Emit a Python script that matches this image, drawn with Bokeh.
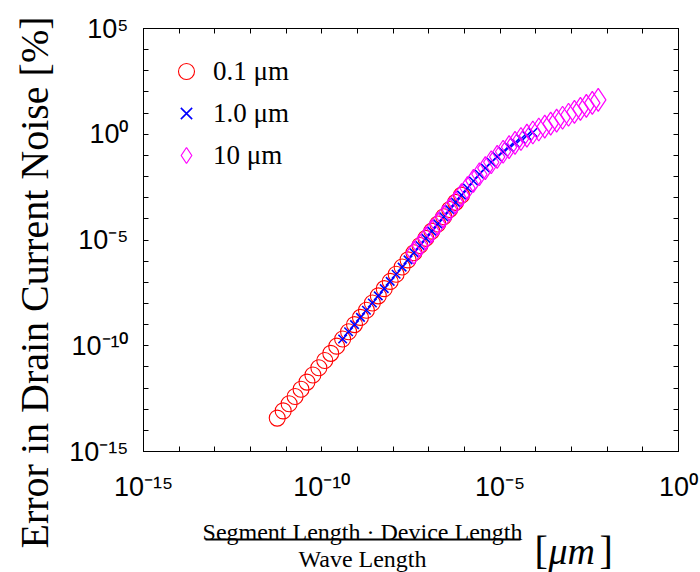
import math
from bokeh.plotting import figure
from bokeh.layouts import column
from bokeh.models import (Range1d, LogAxis, FixedTicker, CustomJSTickFormatter,
                          Legend, LegendItem, Title)
from bokeh.core.properties import value
from bokeh.embed import file_html
from bokeh.resources import INLINE

# ---------------- data ----------------
red_x = [5.62e-12, 8.25e-12, 1.21e-11, 1.78e-11, 2.61e-11, 3.83e-11, 5.62e-11, 8.25e-11,
         1.21e-10, 1.78e-10, 2.61e-10, 3.83e-10, 5.62e-10, 8.25e-10, 1.21e-9, 1.78e-9,
         2.61e-9, 3.83e-9, 5.62e-9, 8.25e-9, 1.21e-8, 1.78e-8, 2.61e-8, 3.83e-8,
         5.62e-8, 8.25e-8, 1.21e-7, 1.78e-7, 2.61e-7, 3.83e-7, 5.62e-7, 8.25e-7]
red_y = [3.80e-14, 8.32e-14, 1.82e-13, 3.98e-13, 8.71e-13, 1.91e-12, 4.17e-12, 9.12e-12,
         2.00e-11, 4.37e-11, 9.55e-11, 2.09e-10, 4.57e-10, 1.00e-9, 2.19e-9, 4.79e-9,
         1.05e-8, 2.29e-8, 5.01e-8, 1.10e-7, 2.40e-7, 5.25e-7, 1.15e-6, 2.51e-6,
         5.50e-6, 1.20e-5, 2.63e-5, 5.75e-5, 1.26e-4, 2.75e-4, 6.03e-4, 1.32e-3]

blue_x = [3.83e-10, 5.62e-10, 8.25e-10, 1.21e-9, 1.78e-9, 2.61e-9, 3.83e-9, 5.62e-9,
          8.25e-9, 1.21e-8, 1.78e-8, 2.61e-8, 3.83e-8, 5.62e-8, 8.25e-8, 1.21e-7,
          1.78e-7, 2.61e-7, 3.83e-7, 5.62e-7, 8.25e-7, 1.21e-6, 1.78e-6, 2.61e-6,
          3.83e-6, 5.62e-6, 8.25e-6, 1.21e-5, 1.78e-5, 2.61e-5, 3.83e-5, 5.62e-5, 8.25e-5]
blue_y = [2.09e-10, 4.57e-10, 1.00e-9, 2.19e-9, 4.79e-9, 1.05e-8, 2.29e-8, 5.01e-8,
          1.10e-7, 2.40e-7, 5.25e-7, 1.15e-6, 2.51e-6, 5.50e-6, 1.20e-5, 2.63e-5,
          5.75e-5, 1.26e-4, 2.75e-4, 6.03e-4, 1.32e-3, 2.88e-3, 6.19e-3, 1.28e-2,
          2.52e-2, 4.75e-2, 8.59e-2, 0.149, 0.247, 0.391, 0.594, 0.865, 1.21]

mag_x = [3.83e-8, 5.62e-8, 8.25e-8, 1.21e-7, 1.78e-7, 2.61e-7, 3.83e-7, 5.62e-7,
         8.25e-7, 1.21e-6, 1.78e-6, 2.61e-6, 3.83e-6, 5.62e-6, 8.25e-6, 1.21e-5,
         1.78e-5, 2.61e-5, 3.83e-5, 5.62e-5, 8.25e-5, 1.21e-4, 1.78e-4, 2.61e-4,
         3.83e-4, 5.62e-4, 8.25e-4, 1.21e-3, 1.78e-3, 2.61e-3, 3.83e-3, 5.62e-3]
mag_y = [2.51e-6, 5.50e-6, 1.20e-5, 2.63e-5, 5.75e-5, 1.26e-4, 2.75e-4, 6.03e-4,
         1.32e-3, 2.88e-3, 6.19e-3, 1.28e-2, 2.52e-2, 4.75e-2, 8.59e-2, 0.149,
         0.247, 0.391, 0.594, 0.865, 1.21, 1.67, 2.30, 3.18,
         4.39, 6.05, 8.36, 11.5, 15.9, 22.0, 30.3, 41.9]

series_labels = ["0.1 μm", "1.0 μm", "10 μm"]
y_title = "Error in Drain Current Noise [%]"
x_title_num = "Segment Length · Device Length"
x_title_den = "Wave Length"
x_title_unit = ["[", "μm", "]"]
x_decades = list(range(-15, 1))
y_decades = list(range(-15, 6))
label_every = 5

# ---------------- layout ----------------
W, H = 700, 572
STRIP_TOP = 520                # top of the visible x-title strip (page pixels)
SHIFT = 9                      # the strip's frame sits this far below its canvas top
XT_H = H - STRIP_TOP + SHIFT
FL, FR, FT = 143, 22, 28       # frame margins
FB = H - FT - 423
SERIF = "Liberation Serif"
SANS = "Liberation Sans"

p = figure(width=W, height=H, x_axis_type="log", y_axis_type="log",
           x_range=Range1d(10.0 ** x_decades[0], 10.0 ** x_decades[-1]),
           y_range=Range1d(10.0 ** y_decades[0], 10.0 ** y_decades[-1]),
           output_backend="svg", toolbar_location=None, title=None,
           min_border_left=FL, min_border_right=FR,
           min_border_top=FT, min_border_bottom=FB)
p.grid.visible = False
p.outline_line_color = "black"
p.background_fill_color = "white"
p.border_fill_color = "white"

sup_code = """
const e = Math.round(Math.log10(tick));
if (e %% %d !== 0) return '';
const sup = {'-':'\u207b','0':'\u2070','1':'\u00b9','2':'\u00b2','3':'\u00b3','4':'\u2074',
             '5':'\u2075','6':'\u2076','7':'\u2077','8':'\u2078','9':'\u2079'};
return '10' + String(e).split('').map(c => sup[c]).join('');
""" % label_every


def style_axis(ax, ticks, labelled, standoff=0):
    ax.ticker = FixedTicker(ticks=ticks)
    ax.major_tick_in = 5
    ax.major_tick_out = 0
    ax.minor_tick_line_color = None
    ax.axis_line_color = "black"
    ax.major_tick_line_color = "black"
    if labelled:
        ax.formatter = CustomJSTickFormatter(code=sup_code)
        ax.major_label_text_font = SANS
        ax.major_label_text_font_size = "27px"
        ax.major_label_text_color = "black"
        ax.major_label_standoff = standoff
    else:
        ax.formatter = CustomJSTickFormatter(code="return ''")
        ax.major_label_standoff = 0
        ax.major_label_text_font_size = "1px"


xt = [10.0 ** e for e in x_decades]
yt = [10.0 ** e for e in y_decades]
style_axis(p.xaxis[0], xt, True, 20)
style_axis(p.yaxis[0], yt, True, 15)
top_ax = LogAxis()
style_axis(top_ax, xt, False)
p.add_layout(top_ax, "above")
right_ax = LogAxis()
style_axis(right_ax, yt, False)
p.add_layout(right_ax, "right")

# y title in the left panel, starting below the frame like the reference
p.add_layout(Title(text=y_title, align="left", offset=-97, standoff=19,
                   text_font=SERIF, text_font_size="40px", text_font_style="normal",
                   text_color="black"), "left")

# ---------------- data marks ----------------
r_red = p.scatter(red_x, red_y, marker="circle", size=16, fill_color=None,
                  line_color="#ff0000", line_width=1.1)
r_blue = p.scatter(blue_x, blue_y, marker="x", size=12, line_color="#0000ff", line_width=1.6)
r_mag = p.scatter(mag_x, mag_y, marker="diamond", size=23, fill_color=None,
                  line_color="#ff00ff", line_width=1.2)

legend = Legend(items=[LegendItem(label=series_labels[0], renderers=[r_red]),
                       LegendItem(label=series_labels[1], renderers=[r_blue]),
                       LegendItem(label=series_labels[2], renderers=[r_mag])],
                location="top_left", margin=23, padding=0, spacing=2,
                glyph_width=40, glyph_height=40, label_standoff=7,
                label_text_font=SERIF, label_text_font_size="27px",
                label_text_color="black",
                border_line_color=None, background_fill_alpha=0)
p.add_layout(legend)

# ---------------- x title strip (page coordinates), overlaid on the plot's bottom ----------------
fx = figure(width=W, height=XT_H, x_range=Range1d(FL, W - FR),
            y_range=Range1d(STRIP_TOP + XT_H, STRIP_TOP),
            output_backend="svg", toolbar_location=None, title=None,
            x_axis_location=None, y_axis_location=None,
            min_border_left=FL, min_border_right=FR, min_border_top=0, min_border_bottom=0,
            margin=(-XT_H, 0, 0, 0))
fx.grid.visible = False
fx.outline_line_color = None
fx.background_fill_alpha = 0
fx.border_fill_alpha = 0
fx.text(x=[362, 362], y=[540, 567], text=[x_title_num, x_title_den],
        text_align=value("center"), text_baseline=value("alphabetic"),
        text_font=value(SERIF), text_font_size=value("24px"), text_color="black")
fx.segment(x0=[205], y0=[548], x1=[520], y1=[548], line_color="black", line_width=2)
fx.text(x=[534, 599], y=[559, 559], text=[x_title_unit[0], x_title_unit[2]],
        text_align=value("left"), text_baseline=value("alphabetic"),
        text_font=value(SERIF), text_font_size=value("40px"), text_color="black")
fx.text(x=[548], y=[559], text=[x_title_unit[1]],
        text_align=value("left"), text_baseline=value("alphabetic"),
        text_font=value(SERIF), text_font_style=value("italic"),
        text_font_size=value("38px"), text_color="black")

layout = column(p, fx, spacing=0)
open("out.html", "w").write(file_html(layout, INLINE))
